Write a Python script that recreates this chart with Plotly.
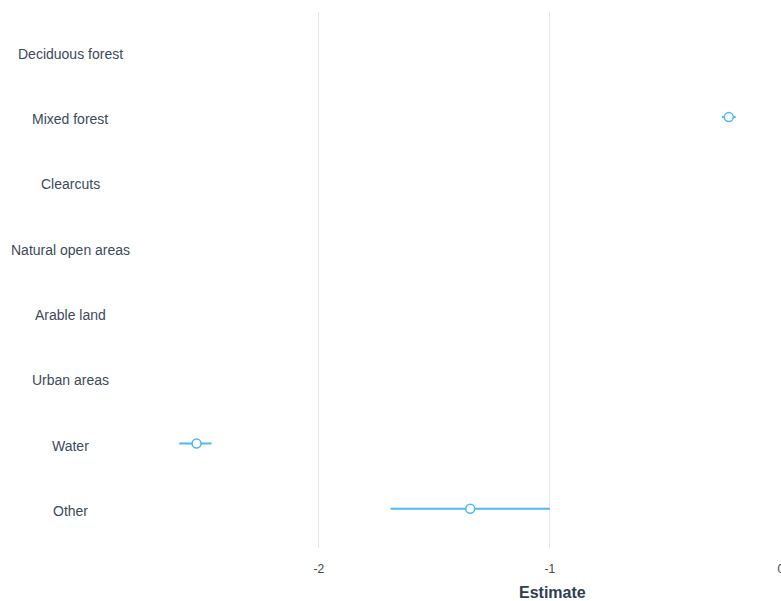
import plotly.graph_objects as go

# Land-cover categories, top to bottom
categories = ["Deciduous forest", "Mixed forest", "Clearcuts", "Natural open areas",
              "Arable land", "Urban areas", "Water", "Other"]
# Point estimates and confidence limits (None = not estimated)
estimate = [None, -0.225, None, None, None, None, -2.53, -1.345]
lower = [None, -0.255, None, None, None, None, -2.605, -1.69]
upper = [None, -0.195, None, None, None, None, -2.465, -1.0]

ypos = list(range(len(categories)))
err_plus = [None if e is None else u - e for e, u in zip(estimate, upper)]
err_minus = [None if e is None else e - l for e, l in zip(estimate, lower)]

blue = "#4fb8f7"
fig = go.Figure()
fig.add_trace(go.Scatter(
    x=estimate, y=ypos, mode="markers",
    marker=dict(symbol="circle", size=9, color="white", line=dict(color=blue, width=1.5)),
    error_x=dict(type="data", symmetric=False, array=err_plus, arrayminus=err_minus,
                 color=blue, thickness=2, width=0),
    showlegend=False, hoverinfo="x+y",
))

L, R, T, B = 140, 0, 12, 53
W = 781
fig.update_layout(
    width=781, height=601,
    margin=dict(l=L, r=R, t=T, b=B, autoexpand=False),
    paper_bgcolor="white", plot_bgcolor="white",
    font=dict(family="Liberation Sans, Arial, sans-serif", size=12, color="#444"),
    xaxis=dict(range=[-(W - L) / 231.0, 0.001], tickvals=[-2, -1, 0], ticktext=["-2", "-1", "0"],
               showgrid=True, gridcolor="#e6e6e6", gridwidth=1, zeroline=False,
               showline=False, ticks="outside", ticklen=10, tickcolor="rgba(0,0,0,0)",
               ticklabeloverflow="allow", automargin=False,
               tickfont=dict(size=12, color="#444")),
    yaxis=dict(range=[7.6, -0.61], showgrid=False, zeroline=False, showticklabels=False,
               ticks="", automargin=False),
)

plot_w = W - L - R
for i, c in enumerate(categories):
    fig.add_annotation(x=(70 - L) / plot_w, xref="paper", y=i, yref="y", yshift=-2, text=c,
                       showarrow=False, xanchor="center", yanchor="middle",
                       font=dict(size=14, color="#3d4a5c"))

fig.add_annotation(x=-0.99, xref="x", y=0, yref="paper", yshift=-44, text="<b>Estimate</b>",
                   showarrow=False, xanchor="center", yanchor="middle",
                   font=dict(size=16, color="#2e3e52"))

fig.write_html("out.html")
